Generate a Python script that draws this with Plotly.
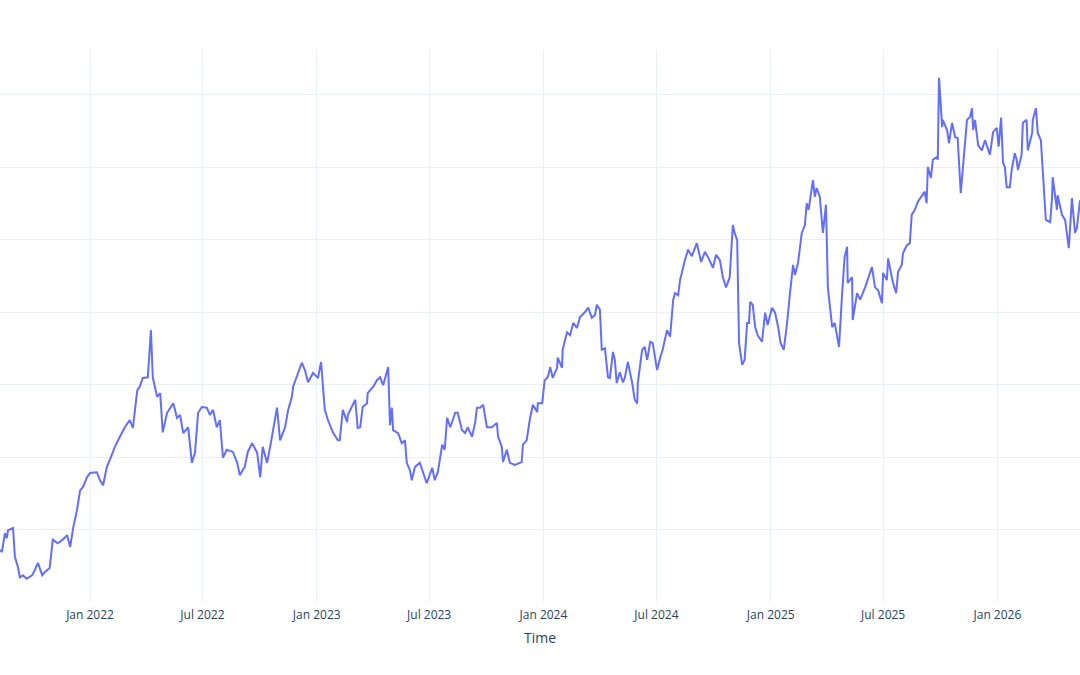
import pandas as pd
import plotly.graph_objects as go

start_date = "2021-08-09"
day_offsets = [
    0, 3, 8, 11, 13, 21, 24, 29, 32, 37, 43, 52, 56, 61, 68, 72, 80, 84, 85, 93,
    101, 108, 113, 118, 124, 129, 134, 140, 145, 156, 161, 166, 172, 180, 185, 193, 201, 209, 214, 221,
    225, 230, 238, 243, 246, 253, 258, 262, 269, 279, 285, 290, 295, 303, 309, 314, 319, 325, 333, 338,
    343, 349, 354, 359, 365, 375, 382, 386, 394, 399, 406, 414, 419, 423, 430, 435, 440, 446, 451, 459,
    464, 470, 472, 480, 486, 491, 496, 504, 512, 517, 523, 528, 536, 544, 547, 552, 559, 560, 572, 576,
    580, 584, 591, 592, 601, 607, 612, 617, 625, 628, 631, 633, 641, 647, 652, 655, 660, 663, 668, 676,
    681, 687, 696, 700, 705, 712, 716, 720, 725, 733, 737, 744, 749, 753, 760, 765, 768, 773, 778, 784,
    792, 800, 802, 808, 810, 816, 821, 829, 840, 842, 848, 853, 858, 865, 866, 873, 877, 882, 886, 890,
    897, 898, 905, 906, 913, 918, 923, 929, 934, 942, 947, 953, 958, 961, 966, 969, 974, 979, 982, 987,
    990, 993, 998, 1003, 1006, 1011, 1018, 1022, 1026, 1027, 1034, 1038, 1042, 1047, 1051, 1058, 1063, 1067, 1074, 1079,
    1084, 1087, 1092, 1095, 1103, 1108, 1114, 1122, 1129, 1135, 1141, 1148, 1153, 1159, 1164, 1169, 1175, 1180, 1183, 1187,
    1190, 1195, 1199, 1203, 1206, 1208, 1212, 1216, 1220, 1227, 1232, 1236, 1243, 1248, 1253, 1257, 1262, 1267, 1272, 1277,
    1280, 1285, 1291, 1296, 1299, 1302, 1309, 1312, 1315, 1320, 1325, 1330, 1333, 1340, 1344, 1348, 1351, 1356, 1360, 1364,
    1365, 1372, 1373, 1380, 1385, 1393, 1397, 1404, 1409, 1414, 1420, 1422, 1428, 1430, 1436, 1438, 1443, 1446, 1452, 1454,
    1460, 1465, 1468, 1473, 1478, 1484, 1489, 1492, 1494, 1499, 1502, 1509, 1510, 1512, 1517, 1518, 1525, 1528, 1533, 1538,
    1542, 1547, 1550, 1557, 1562, 1565, 1567, 1570, 1575, 1581, 1586, 1591, 1594, 1599, 1605, 1608, 1612, 1615, 1618, 1621,
    1626, 1629, 1634, 1637, 1639, 1645, 1647, 1653, 1655, 1662, 1663, 1668, 1671, 1676, 1679, 1684, 1691, 1694, 1695, 1702,
    1703, 1710, 1715, 1718, 1721, 1726, 1731, 1734, 1739,
]
values = [
    27.2, 26.9, 29.5, 28.8, 29.9, 30.2, 26.2, 24.8, 23.4, 23.7, 23.2, 23.7, 24.4, 25.4, 23.7, 24.1, 24.7, 27.4, 28.6, 28.1,
    28.6, 29.2, 27.6, 30.3, 32.7, 35.4, 35.9, 37.2, 37.8, 37.9, 36.8, 36.1, 38.6, 40.3, 41.4, 42.8, 44.1, 45.1, 44.0, 49.2,
    49.7, 50.9, 51.0, 57.5, 51.0, 48.3, 48.8, 43.4, 46.1, 47.4, 45.4, 45.8, 43.3, 44.1, 39.2, 40.6, 46.1, 46.9, 46.8, 45.8,
    46.5, 44.1, 45.1, 39.9, 41.0, 40.7, 39.2, 37.5, 38.6, 40.7, 41.9, 40.6, 37.2, 41.4, 39.2, 41.4, 44.1, 46.8, 42.3, 44.1,
    46.5, 48.3, 49.7, 51.7, 53.0, 52.0, 50.3, 51.6, 50.9, 53.1, 46.5, 45.1, 43.4, 42.3, 42.3, 46.5, 44.8, 45.8, 47.9, 44.0,
    44.1, 46.9, 47.4, 48.8, 49.7, 50.6, 51.0, 49.9, 52.4, 44.4, 46.8, 43.7, 43.3, 41.9, 42.3, 39.2, 38.2, 36.8, 38.6, 39.2,
    37.9, 36.4, 38.5, 36.8, 37.9, 41.7, 41.0, 45.4, 44.1, 46.1, 46.1, 43.7, 43.3, 44.1, 42.8, 44.7, 46.8, 46.8, 47.2, 44.1,
    44.1, 44.7, 42.8, 41.4, 39.3, 41.0, 39.2, 38.9, 39.3, 41.7, 42.3, 45.1, 47.2, 46.2, 47.4, 47.4, 50.6, 51.0, 52.4, 50.9,
    52.3, 53.7, 52.3, 54.8, 57.2, 56.8, 58.5, 57.8, 59.3, 60.0, 60.6, 59.2, 59.6, 61.0, 60.3, 54.8, 55.0, 51.0, 50.9, 54.5,
    53.4, 50.2, 51.7, 50.3, 50.9, 53.1, 50.2, 47.9, 47.4, 50.2, 54.8, 55.2, 53.4, 55.9, 55.7, 52.0, 53.7, 54.8, 57.5, 56.6,
    61.7, 62.6, 62.3, 64.4, 67.2, 68.6, 67.7, 69.5, 66.9, 68.3, 67.4, 66.1, 67.9, 67.2, 64.8, 63.4, 64.8, 72.0, 70.9, 69.9,
    55.7, 52.7, 53.4, 58.5, 58.5, 61.4, 61.0, 57.9, 56.8, 55.9, 59.9, 58.2, 60.6, 59.9, 57.9, 55.7, 54.8, 58.2, 62.6, 66.5,
    65.1, 66.8, 70.9, 72.0, 75.0, 74.1, 78.2, 75.9, 77.1, 75.9, 70.9, 74.8, 63.4, 57.9, 58.5, 56.6, 55.2, 62.6, 67.6, 69.0,
    64.0, 64.8, 58.9, 62.6, 61.7, 63.4, 64.4, 66.2, 63.4, 63.0, 61.2, 65.4, 64.4, 67.4, 64.8, 64.0, 62.6, 65.5, 66.5, 68.1,
    69.2, 69.5, 73.4, 74.1, 75.2, 75.9, 76.6, 75.0, 80.0, 78.5, 81.0, 81.4, 81.0, 92.3, 85.5, 86.5, 85.1, 83.3, 86.1, 84.1,
    84.0, 76.4, 79.6, 86.5, 86.9, 88.1, 85.1, 86.5, 83.0, 82.3, 83.7, 82.3, 81.7, 84.8, 85.4, 82.8, 86.8, 80.6, 80.0, 77.2,
    77.2, 79.6, 81.9, 81.0, 79.6, 81.7, 86.1, 86.5, 82.3, 84.7, 86.5, 88.1, 84.7, 83.7, 80.0, 72.7, 72.4, 75.7, 78.6, 74.1,
    76.1, 73.4, 72.7, 70.3, 68.8, 75.7, 70.9, 71.6, 75.4,
]

y_axis_min = 20
y_axis_max = 96.14
y_tick_step = 10

dates = pd.Timestamp(start_date) + pd.to_timedelta(day_offsets, unit="D")

fig = go.Figure()
fig.add_trace(go.Scatter(
    x=dates, y=values, mode="lines",
    line=dict(color="#636efa", width=2),
    showlegend=False,
))

fig.update_layout(
    template="plotly_white",
    width=1080, height=675,
    margin=dict(l=0, r=0, t=50, b=73),
    font=dict(family="Open Sans, Verdana, Arial, sans-serif", color="#2a3f5f"),
    xaxis=dict(
        title=dict(text="Time", standoff=11),
        range=[dates[0], dates[-1]],
        gridcolor="#EBF0F8",
        showline=False,
        zeroline=False,
        ticklabelstandoff=4,
    ),
    yaxis=dict(
        range=[y_axis_min, y_axis_max],
        tick0=y_axis_min, dtick=y_tick_step,
        showticklabels=False,
        gridcolor="#EBF0F8",
        zeroline=False,
        title=None,
    ),
)

fig.write_html("out.html")
